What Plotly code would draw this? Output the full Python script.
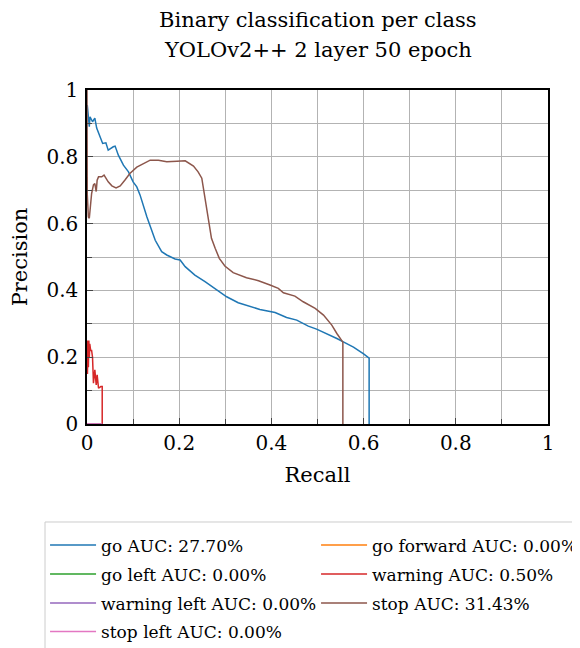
import plotly.graph_objects as go

# ---------------- data ----------------
go_recall = [0.0, 0.0006, 0.005, 0.0065, 0.012, 0.017, 0.021, 0.028, 0.034, 0.041, 0.046, 0.057,
             0.061, 0.068, 0.079, 0.09, 0.1, 0.108, 0.115, 0.13, 0.137, 0.148, 0.162, 0.173,
             0.191, 0.202, 0.213, 0.234, 0.256, 0.281, 0.303, 0.328, 0.346, 0.375, 0.408,
             0.433, 0.455, 0.48, 0.498, 0.52, 0.542, 0.556, 0.578, 0.6, 0.612, 0.612]
go_precision = [0.95, 0.955, 0.89, 0.92, 0.905, 0.916, 0.886, 0.86, 0.84, 0.842, 0.82, 0.83,
                0.832, 0.805, 0.775, 0.755, 0.725, 0.71, 0.686, 0.62, 0.59, 0.55, 0.516, 0.506,
                0.494, 0.491, 0.471, 0.446, 0.426, 0.401, 0.381, 0.363, 0.356, 0.343, 0.334,
                0.319, 0.311, 0.293, 0.284, 0.271, 0.256, 0.246, 0.23, 0.21, 0.197, 0.0]

stop_recall = [0.0, 0.0006, 0.003, 0.005, 0.01, 0.014, 0.017, 0.02, 0.022, 0.025, 0.032, 0.037,
               0.046, 0.054, 0.063, 0.072, 0.082, 0.093, 0.108, 0.122, 0.137, 0.155, 0.173,
               0.195, 0.213, 0.231, 0.241, 0.249, 0.256, 0.263, 0.27, 0.278, 0.287, 0.299,
               0.317, 0.346, 0.372, 0.397, 0.415, 0.426, 0.451, 0.469, 0.495, 0.513, 0.531,
               0.542, 0.552, 0.555, 0.555]
stop_precision = [1.0, 0.686, 0.62, 0.616, 0.69, 0.716, 0.72, 0.696, 0.73, 0.74, 0.74, 0.745,
                  0.725, 0.713, 0.707, 0.713, 0.73, 0.75, 0.769, 0.778, 0.79, 0.79, 0.785,
                  0.787, 0.788, 0.772, 0.755, 0.736, 0.671, 0.611, 0.556, 0.526, 0.496, 0.473,
                  0.453, 0.438, 0.429, 0.416, 0.406, 0.393, 0.383, 0.366, 0.346, 0.326, 0.296,
                  0.271, 0.253, 0.245, 0.0]

warning_recall = [0.0, 0.001, 0.002, 0.003, 0.004, 0.005, 0.006, 0.007, 0.008, 0.01, 0.012,
                  0.014, 0.017, 0.02, 0.022, 0.025, 0.03, 0.033, 0.033]
warning_precision = [0.25, 0.15, 0.25, 0.17, 0.25, 0.2, 0.24, 0.22, 0.22, 0.22, 0.2,
                     0.122, 0.162, 0.117, 0.147, 0.107, 0.112, 0.112, 0.0]

zero_recall = [0.0, 0.033]
zero_precision = [0.0, 0.0]

series_names = ["go AUC: 27.70%", "go forward AUC: 0.00%", "go left AUC: 0.00%",
                "warning AUC: 0.50%", "warning left AUC: 0.00%", "stop AUC: 31.43%",
                "stop left AUC: 0.00%"]
series_colors = ["#1f77b4", "#ff7f0e", "#2ca02c", "#d62728", "#9467bd", "#8c564b", "#e377c2"]
series_data = [(go_recall, go_precision), (zero_recall, zero_precision),
               (zero_recall, zero_precision), (warning_recall, warning_precision),
               (zero_recall, zero_precision), (stop_recall, stop_precision),
               (zero_recall, zero_precision)]

tick_vals = [0, 0.2, 0.4, 0.6, 0.8, 1]
tick_text = ["0", "0.2", "0.4", "0.6", "0.8", "1"]

title_lines = ["Binary classification per class", "YOLOv2++ 2 layer 50 epoch"]

FONT = "DejaVu Serif"
legend_ids = ["legend", "legend2", "legend3", "legend4"]
legend_rows_y = [-0.3099, -0.3967, -0.4835, -0.5689]

fig = go.Figure()
for i, (name, color, (xs, ys)) in enumerate(zip(series_names, series_colors, series_data)):
    fig.add_trace(go.Scatter(x=xs, y=ys, mode="lines", name=name,
                             legend=legend_ids[i // 2],
                             line=dict(color=color, width=1.5)))

axis_common = dict(
    range=[0, 1], tickmode="array", tickvals=tick_vals, ticktext=tick_text,
    showgrid=True, gridcolor="#b3b3b3", gridwidth=1,
    minor=dict(dtick=0.1, showgrid=True, gridcolor="#b3b3b3", gridwidth=1,
               ticks="inside", ticklen=5, tickcolor="#444"),
    ticks="inside", ticklen=6, tickcolor="#444",
    showline=True, linecolor="black", linewidth=1.5, mirror=True,
    zeroline=False, automargin=False,
    tickfont=dict(family=FONT, size=20, color="black"),
)

fig.update_xaxes(**axis_common, title=dict(text="Recall", font=dict(family=FONT, size=21, color="black"), standoff=14))
fig.update_yaxes(**axis_common, ticklabelstandoff=3,
                 title=dict(text="Precision", font=dict(family=FONT, size=21, color="black"), standoff=17))

annotations = []
for i, line in enumerate(title_lines):
    annotations.append(dict(text=line, x=0.5, xref="paper", xanchor="center",
                            y=1 + (70 - 30 * i) / 334, yref="paper", yanchor="middle",
                            showarrow=False, font=dict(family=FONT, size=21, color="black")))

legend_style = dict(orientation="h", x=-0.091, xanchor="left", yanchor="top",
                    entrywidth=210, entrywidthmode="pixels", itemwidth=46,
                    borderwidth=0, bgcolor="rgba(0,0,0,0)",
                    font=dict(family=FONT, size=17, color="black"))
legends = {lid: dict(legend_style, y=ly) for lid, ly in zip(legend_ids, legend_rows_y)}

fig.update_layout(
    width=580, height=648,
    margin=dict(l=79, r=40, t=82, b=232, autoexpand=False),
    paper_bgcolor="white", plot_bgcolor="white",
    font=dict(family=FONT, color="black"),
    annotations=annotations,
    showlegend=True,
    shapes=[dict(type="rect", xref="paper", yref="paper",
                 x0=-0.0911, x1=2.0, y0=-0.2934, y1=-0.85,
                 line=dict(color="#cccccc", width=1), fillcolor="rgba(0,0,0,0)",
                 layer="below")],
    **legends,
)

fig.write_html("out.html")
